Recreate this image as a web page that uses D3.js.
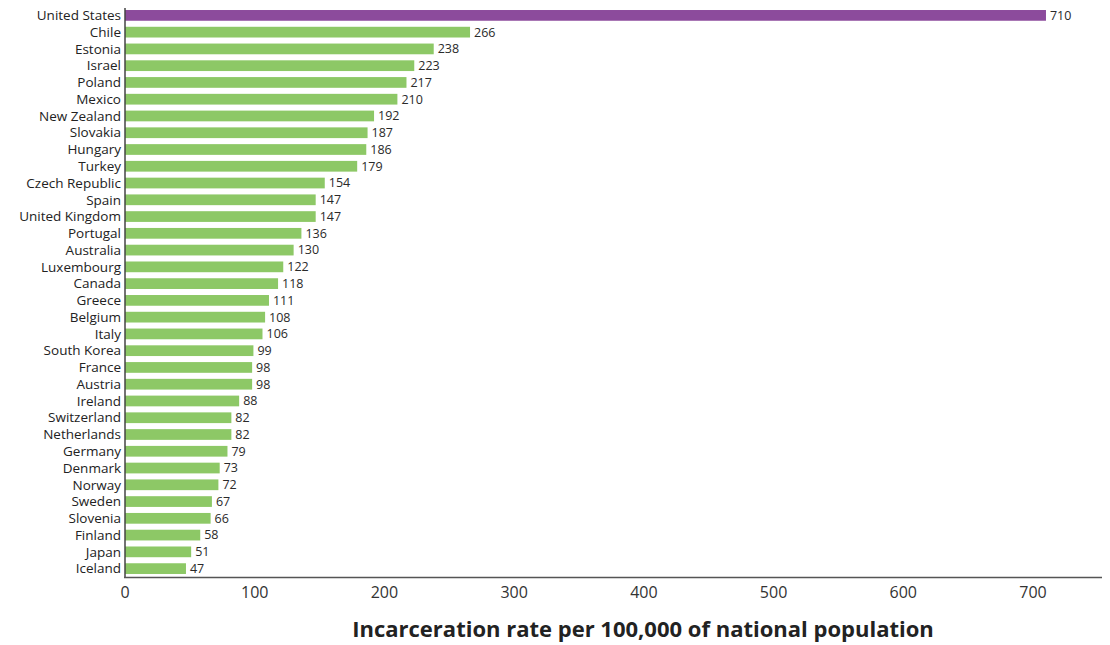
<!DOCTYPE html>
<html>
<head>
<meta charset="utf-8">
<script src="https://cdn.jsdelivr.net/npm/d3@7"></script>
<style>
  body { margin: 0; background: #fff; }
  svg { display: block; }
  .lbl { font-family: "Open Sans", "Liberation Sans", sans-serif; }
</style>
</head>
<body>
<svg id="chart" width="1110" height="645"></svg>
<script>
const countries = ["United States","Chile","Estonia","Israel","Poland","Mexico","New Zealand","Slovakia","Hungary","Turkey","Czech Republic","Spain","United Kingdom","Portugal","Australia","Luxembourg","Canada","Greece","Belgium","Italy","South Korea","France","Austria","Ireland","Switzerland","Netherlands","Germany","Denmark","Norway","Sweden","Slovenia","Finland","Japan","Iceland"];
const rates = [710,266,238,223,217,210,192,187,186,179,154,147,147,136,130,122,118,111,108,106,99,98,98,88,82,82,79,73,72,67,66,58,51,47];
const xTicks = [0,100,200,300,400,500,600,700];
const axisTitle = "Incarceration rate per 100,000 of national population";

const data = countries.map((c, i) => ({ country: c, value: rates[i] }));
const svg = d3.select("#chart");

const x = d3.scaleLinear().domain([0, 700]).range([125, 1033]);
const y = d3.scaleBand().domain(countries).range([7, 577]).paddingInner(0.36).paddingOuter(0.18);

// bars
svg.append("g").selectAll("rect").data(data).join("rect")
  .attr("x", x(0))
  .attr("y", d => y(d.country))
  .attr("width", d => x(d.value) - x(0))
  .attr("height", y.bandwidth())
  .attr("fill", (d, i) => i === 0 ? "#8c4b9c" : "#8dc866");

// value labels
svg.append("g").selectAll("text").data(data).join("text")
  .attr("class", "lbl")
  .attr("x", d => x(d.value) + 4)
  .attr("y", d => y(d.country) + y.bandwidth() / 2)
  .attr("dy", "0.35em")
  .attr("font-size", 12.5)
  .attr("fill", "#2a2a2a")
  .text(d => d.value);

// country labels
svg.append("g").selectAll("text").data(data).join("text")
  .attr("class", "lbl")
  .attr("x", 121)
  .attr("y", d => y(d.country) + y.bandwidth() / 2)
  .attr("dy", "0.35em")
  .attr("text-anchor", "end")
  .attr("font-size", 13.5)
  .attr("font-weight", 500)
  .attr("fill", "#222")
  .text(d => d.country);

// axes lines
svg.append("line").attr("x1", 125).attr("x2", 125).attr("y1", 8).attr("y2", 578)
  .attr("stroke", "#444").attr("stroke-width", 1.5);
svg.append("line").attr("x1", 124).attr("x2", 1102).attr("y1", 577.5).attr("y2", 577.5)
  .attr("stroke", "#555").attr("stroke-width", 1.5);

// x tick labels
svg.append("g").selectAll("text").data(xTicks).join("text")
  .attr("class", "lbl")
  .attr("x", d => x(d))
  .attr("y", 592)
  .attr("dy", "0.35em")
  .attr("text-anchor", "middle")
  .attr("font-size", 16)
  .attr("fill", "#333")
  .text(d => d);

// axis title
svg.append("text")
  .attr("class", "lbl")
  .attr("x", 643)
  .attr("y", 629)
  .attr("dy", "0.35em")
  .attr("text-anchor", "middle")
  .attr("font-size", 22)
  .attr("font-weight", 700)
  .attr("fill", "#222")
  .text(axisTitle);
</script>
</body>
</html>
